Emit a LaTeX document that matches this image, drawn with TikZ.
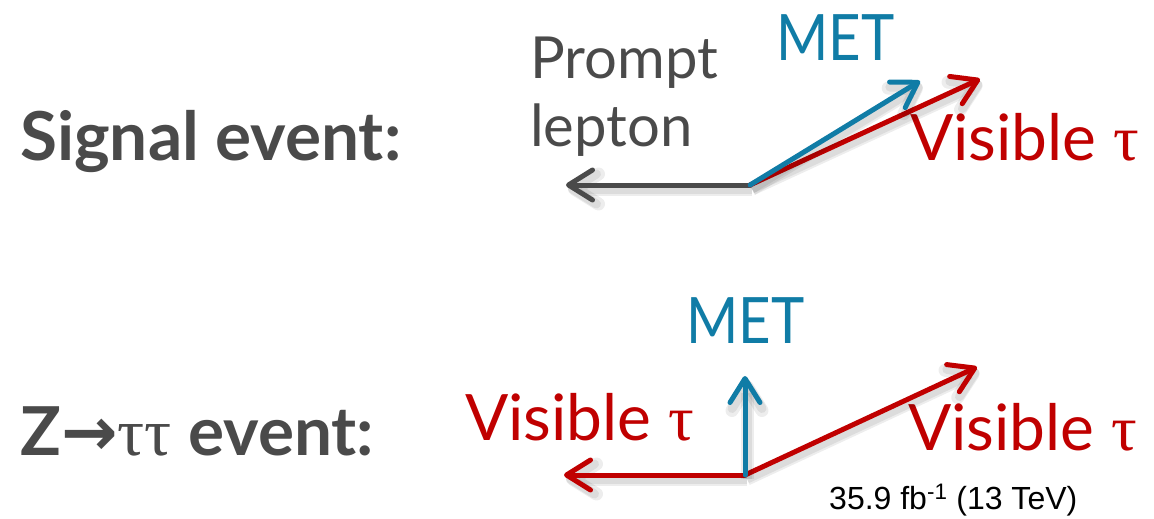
\documentclass[tikz,border=0pt]{standalone}
\usepackage{fontspec}
\usepackage{graphicx}
\setmainfont{Lato}
\newfontfamily\symfont{DejaVu Sans}
\newfontfamily\greekfont{Liberation Serif}
\newfontfamily\notefont{Liberation Sans}
\usetikzlibrary{arrows.meta}
\definecolor{labelgrey}{RGB}{74,74,74}
\definecolor{metblue}{RGB}{16,124,166}
\definecolor{taured}{RGB}{192,0,0}
\tikzset{
  heading/.style={anchor=base west, inner sep=0pt, text=labelgrey, font=\fontsize{67.5}{72}\selectfont\bfseries},
  vlabel/.style={anchor=base west, inner sep=0pt, font=\fontsize{64}{70}\selectfont},
  softshadow/.style={preaction={draw=black, draw opacity=0.07, line width=#1, transform canvas={shift={(2pt,-4pt)}}}},
  vec/.style={line width=5pt, line cap=round,
    softshadow=13pt, softshadow=9pt,
    -{Straight Barb[length=24pt, width=30pt, line cap=round, line join=round]}},
}
\newcommand{\tauchar}{{\greekfont τ}}
\newcommand{\metlabel}{\scalebox{0.88}[1]{MET}}
\begin{document}
\begin{tikzpicture}[x=1pt, y=-1pt]
\useasboundingbox (0,0) rectangle (1154,519);

% ---- signal event ----
\node[heading] (sig) at (20,160) {Signal event:};
\node[vlabel, text=labelgrey, font=\fontsize{58}{64}\selectfont] (prompt) at (530,78) {Prompt};
\node[vlabel, text=labelgrey, font=\fontsize{58}{64}\selectfont] (lepton) at (530,146) {lepton};
\node[vlabel, text=metblue] (met1) at (776,60) {\metlabel};
\node[vlabel, text=taured] (vis1) at (910,160) {Visible \tauchar};

\coordinate (o1) at (750,185);
\coordinate (lep) at (566,185);
\coordinate (nu1) at (920,81);
\coordinate (tau1) at (980,79);
\draw[vec, labelgrey] (o1) -- (lep);
\draw[vec, taured] (o1) -- (tau1);
\draw[vec, metblue] (o1) -- (nu1);

% ---- Z -> tau tau event ----
\node[heading] (zev) at (20,455) {Z{\symfont →}{\mdseries\greekfont ττ} event:};
\node[vlabel, text=metblue] (met2) at (686,343) {\metlabel};
\node[vlabel, text=taured] (vis2) at (465,440) {Visible \tauchar};
\node[vlabel, text=taured] (vis3) at (908,450) {Visible \tauchar};
\node[anchor=base west, inner sep=0pt, font=\notefont\fontsize{32}{36}\selectfont] (lumi) at (829,509) {35.9 fb\textsuperscript{-1} (13 TeV)};

\coordinate (o2) at (745,475);
\coordinate (tau2) at (564,475);
\coordinate (nu2) at (745,376);
\coordinate (tau3) at (977,367);
\draw[vec, taured] (o2) -- (tau2);
\draw[vec, taured] (o2) -- (tau3);
\draw[vec, metblue] (o2) -- (nu2);
\end{tikzpicture}
\end{document}
